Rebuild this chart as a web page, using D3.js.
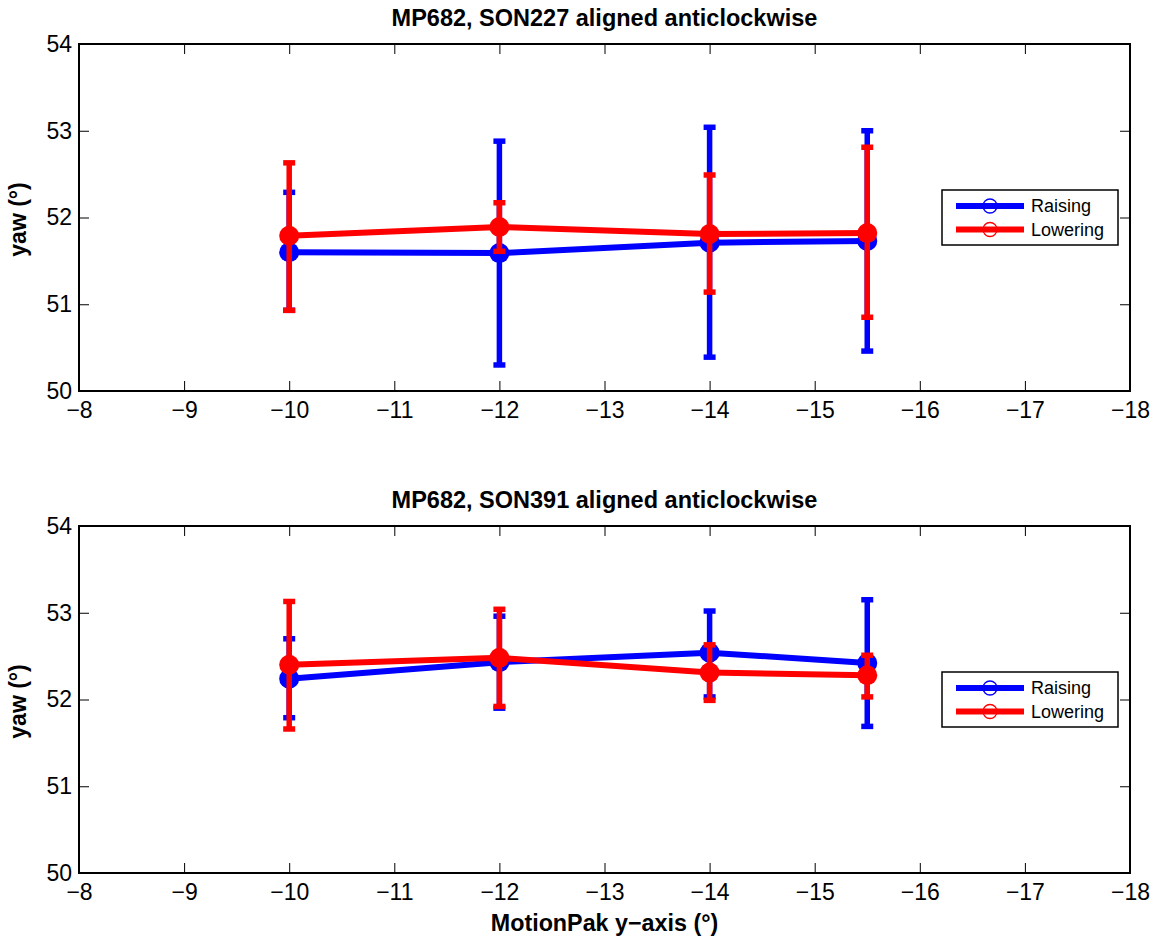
<!DOCTYPE html>
<html>
<head>
<meta charset="utf-8">
<title>MP682 yaw</title>
<script src="https://d3js.org/d3.v7.min.js"></script>
<style>
  body { margin: 0; background: #fff; }
  svg text { font-family: "Liberation Sans", Arial, Helvetica, sans-serif; }
</style>
</head>
<body>
<svg id="chart" width="1151" height="939"></svg>
<script>
// x positions (MotionPak y-axis angle)
const angles = [-10, -12, -14, -15.5];
const xTicks = [-8, -9, -10, -11, -12, -13, -14, -15, -16, -17, -18];
const yTicks = [50, 51, 52, 53, 54];
const seriesNames = ["Raising", "Lowering"];
const seriesColors = ["#0000ff", "#ff0000"];

// panel 1: SON227
const son227RaiseMean = [51.60, 51.59, 51.71, 51.73];
const son227RaiseLow  = [50.93, 50.30, 50.39, 50.46];
const son227RaiseHigh = [52.29, 52.88, 53.04, 53.00];
const son227LowerMean = [51.79, 51.89, 51.81, 51.82];
const son227LowerLow  = [50.93, 51.61, 51.14, 50.85];
const son227LowerHigh = [52.63, 52.17, 52.49, 52.81];

// panel 2: SON391
const son391RaiseMean = [52.24, 52.43, 52.54, 52.42];
const son391RaiseLow  = [51.79, 51.90, 52.03, 51.69];
const son391RaiseHigh = [52.70, 52.96, 53.02, 53.15];
const son391LowerMean = [52.40, 52.48, 52.31, 52.28];
const son391LowerLow  = [51.66, 51.92, 51.99, 52.03];
const son391LowerHigh = [53.13, 53.04, 52.63, 52.51];

const panels = [
  { title: "MP682, SON227 aligned anticlockwise", top: 44,
    series: [
      { mean: son227RaiseMean, low: son227RaiseLow, high: son227RaiseHigh },
      { mean: son227LowerMean, low: son227LowerLow, high: son227LowerHigh }
    ] },
  { title: "MP682, SON391 aligned anticlockwise", top: 526, xlabel: "MotionPak y\u2212axis (\u00b0)",
    series: [
      { mean: son391RaiseMean, low: son391RaiseLow, high: son391RaiseHigh },
      { mean: son391LowerMean, low: son391LowerLow, high: son391LowerHigh }
    ] }
];

const left = 79, width = 1051, height = 347;
const svg = d3.select("#chart");

const x = d3.scaleLinear().domain([-8, -18]).range([0, width]);
const y = d3.scaleLinear().domain([50, 54]).range([height, 0]);
const fmt = d => d3.format("d")(d).replace("-", "\u2212");

panels.forEach(p => {
  const g = svg.append("g").attr("transform", "translate(" + left + "," + p.top + ")");

  // axes, ticks inward on all four sides
  const styleAxis = sel => {
    sel.select(".domain").remove();
    sel.selectAll("line").attr("stroke", "#000").attr("stroke-width", 1);
    sel.selectAll("text").attr("font-size", 23).attr("fill", "#000")
      .style("font-family", "'Liberation Sans', Arial, sans-serif");
  };
  g.append("g").attr("transform", "translate(0," + height + ")")
    .call(d3.axisBottom(x).tickValues(xTicks).tickFormat(fmt).tickSize(-10).tickPadding(11))
    .call(styleAxis);
  g.append("g")
    .call(d3.axisTop(x).tickValues(xTicks).tickFormat("").tickSize(-10))
    .call(styleAxis);
  g.append("g")
    .call(d3.axisLeft(y).tickValues(yTicks).tickFormat(fmt).tickSize(-10).tickPadding(7))
    .call(styleAxis);
  g.append("g").attr("transform", "translate(" + width + ",0)")
    .call(d3.axisRight(y).tickValues(yTicks).tickFormat("").tickSize(-10))
    .call(styleAxis);
  g.append("rect").attr("width", width).attr("height", height)
    .attr("fill", "none").attr("stroke", "#000").attr("stroke-width", 2);

  // series
  p.series.forEach((s, si) => {
    const col = seriesColors[si];
    const sg = g.append("g");
    angles.forEach((a, i) => {
      sg.append("line")
        .attr("x1", x(a)).attr("x2", x(a))
        .attr("y1", y(s.low[i])).attr("y2", y(s.high[i]))
        .attr("stroke", col).attr("stroke-width", 5.5);
      [s.low[i], s.high[i]].forEach(v => {
        sg.append("line")
          .attr("x1", x(a) - 6).attr("x2", x(a) + 6)
          .attr("y1", y(v)).attr("y2", y(v))
          .attr("stroke", col).attr("stroke-width", 5.5);
      });
    });
    sg.append("path")
      .datum(s.mean)
      .attr("fill", "none").attr("stroke", col).attr("stroke-width", 6)
      .attr("stroke-linejoin", "round")
      .attr("d", d3.line().x((d, i) => x(angles[i])).y(d => y(d)));
    sg.selectAll("circle").data(s.mean).join("circle")
      .attr("cx", (d, i) => x(angles[i])).attr("cy", d => y(d))
      .attr("r", 10).attr("fill", col);
  });

  // legend
  const lg = g.append("g").attr("transform", "translate(" + (942 - left) + "," + (190 - 44) + ")");
  lg.append("rect").attr("width", 176).attr("height", 55)
    .attr("fill", "#fff").attr("stroke", "#000").attr("stroke-width", 1.5);
  seriesNames.forEach((n, i) => {
    const ly = 16 + i * 23.5;
    lg.append("line").attr("x1", 14).attr("x2", 82).attr("y1", ly).attr("y2", ly)
      .attr("stroke", seriesColors[i]).attr("stroke-width", 6);
    lg.append("circle").attr("cx", 48).attr("cy", ly).attr("r", 7)
      .attr("fill", "none").attr("stroke", seriesColors[i]).attr("stroke-width", 1.3);
    lg.append("text").attr("x", 89).attr("y", ly).attr("dy", "0.35em")
      .attr("font-size", 18).text(n);
  });

  // title
  g.append("text").attr("x", width / 2).attr("y", -18)
    .attr("text-anchor", "middle").attr("font-size", 23.5).attr("font-weight", "bold")
    .text(p.title);

  // y label
  g.append("text")
    .attr("transform", "translate(" + (-53) + "," + (height / 2 + 2) + ") rotate(-90)")
    .attr("text-anchor", "middle").attr("font-size", 23).attr("font-weight", "bold")
    .text("yaw (\u00b0)");

  if (p.xlabel) {
    g.append("text").attr("x", width / 2).attr("y", height + 58)
      .attr("text-anchor", "middle").attr("font-size", 23.3).attr("font-weight", "bold")
      .text(p.xlabel);
  }
});
</script>
</body>
</html>
